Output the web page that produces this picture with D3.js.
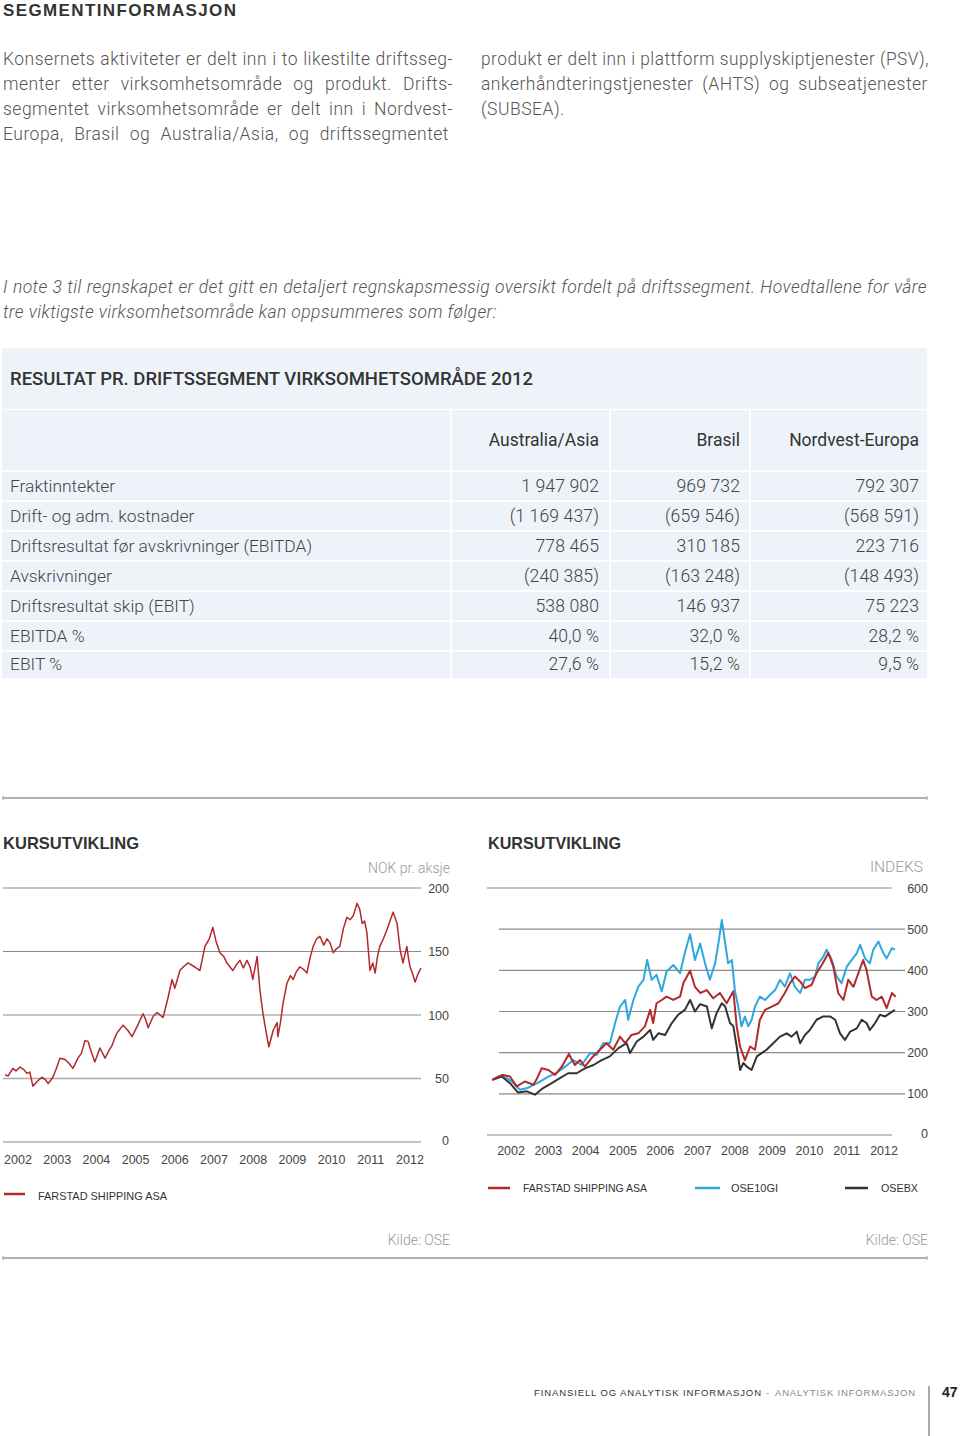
<!DOCTYPE html>
<html><head><meta charset="utf-8">
<script src="https://cdn.jsdelivr.net/npm/d3@7"></script>
<style>
body{margin:0;background:#fff;}
svg{display:block;}
</style></head><body>
<svg id="page" width="960" height="1436"></svg>
<script>
// ---------------- DATA ----------------
const pageHeading = "SEGMENTINFORMASJON";
const introLeft = [
  "Konsernets aktiviteter er delt inn i to likestilte driftsseg-",
  "menter etter virksomhetsområde og produkt. Drifts-",
  "segmentet virksomhetsområde er delt inn i Nordvest-",
  "Europa, Brasil og Australia/Asia, og driftssegmentet"
];
const introRight = [
  "produkt er delt inn i plattform supplyskiptjenester (PSV),",
  "ankerhåndteringstjenester (AHTS) og subseatjenester",
  "(SUBSEA)."
];
const noteLines = [
  "I note 3 til regnskapet er det gitt en detaljert regnskapsmessig oversikt fordelt på driftssegment. Hovedtallene for våre",
  "tre viktigste virksomhetsområde kan oppsummeres som følger:"
];
const tableTitle = "RESULTAT PR. DRIFTSSEGMENT VIRKSOMHETSOMRÅDE 2012";
const segments = ["Australia/Asia", "Brasil", "Nordvest-Europa"];
const rowLabels = ["Fraktinntekter", "Drift- og adm. kostnader", "Driftsresultat før avskrivninger (EBITDA)",
  "Avskrivninger", "Driftsresultat skip (EBIT)", "EBITDA %", "EBIT %"];
const australiaAsia = ["1 947 902", "(1 169 437)", "778 465", "(240 385)", "538 080", "40,0 %", "27,6 %"];
const brasil = ["969 732", "(659 546)", "310 185", "(163 248)", "146 937", "32,0 %", "15,2 %"];
const nordvestEuropa = ["792 307", "(568 591)", "223 716", "(148 493)", "75 223", "28,2 %", "9,5 %"];

const chartTitle = "KURSUTVIKLING";
const years = [2002, 2003, 2004, 2005, 2006, 2007, 2008, 2009, 2010, 2011, 2012];
const priceTicks = [0, 50, 100, 150, 200];
const indexTicks = [0, 100, 200, 300, 400, 500, 600];

// Farstad Shipping share price, NOK per share  [year, value]
const farstadPrice = [
  [2002.17,53],[2002.25,52],[2002.37,58],[2002.45,56],[2002.55,59],[2002.65,57],[2002.73,54],[2002.80,55],[2002.88,44],
  [2003.00,48],[2003.11,51],[2003.20,49],[2003.27,46],[2003.39,51],[2003.48,58],[2003.57,66],[2003.70,65],[2003.80,62],
  [2003.90,58],[2004.03,66],[2004.12,70],[2004.21,80],[2004.29,79],[2004.38,70],[2004.46,63],[2004.59,74],[2004.72,66],
  [2004.82,72],[2004.90,76],[2004.97,82],[2005.03,86],[2005.18,92],[2005.30,88],[2005.41,83],[2005.54,91],[2005.69,101],
  [2005.75,97],[2005.82,90],[2005.95,99],[2006.05,102],[2006.20,98],[2006.33,114],[2006.43,128],[2006.50,121],
  [2006.63,135],[2006.72,138],[2006.84,141],[2007.00,138],[2007.14,135],[2007.27,154],[2007.38,160],[2007.47,169],
  [2007.56,157],[2007.65,149],[2007.75,146],[2007.83,141],[2007.98,135],[2008.08,140],[2008.16,143],[2008.25,137],
  [2008.34,143],[2008.42,138],[2008.49,128],[2008.60,146],[2008.67,120],[2008.75,101],[2008.85,83],[2008.90,75],
  [2009.01,88],[2009.11,94],[2009.13,83],[2009.20,95],[2009.26,109],[2009.36,125],[2009.45,131],[2009.52,128],
  [2009.60,134],[2009.69,138],[2009.78,136],[2009.87,133],[2009.95,145],[2010.03,154],[2010.12,160],[2010.20,162],
  [2010.30,155],[2010.38,160],[2010.46,157],[2010.54,149],[2010.62,152],[2010.71,154],[2010.80,168],[2010.89,177],
  [2010.97,175],[2011.05,178],[2011.15,188],[2011.22,183],[2011.28,172],[2011.34,174],[2011.40,165],[2011.48,135],
  [2011.55,141],[2011.61,133],[2011.67,146],[2011.73,154],[2011.82,160],[2011.91,167],[2012.00,175],[2012.07,181],
  [2012.17,172],[2012.25,151],[2012.32,141],[2012.42,154],[2012.46,145],[2012.50,138],[2012.57,132],[2012.63,126],
  [2012.70,132],[2012.78,137]
];

// Index series (start = ~130)  [year, value]
const farstadIndex = [
  [2002.00,134],[2002.12,140],[2002.29,146],[2002.47,142],[2002.65,118],[2002.87,130],[2003.10,122],[2003.20,138],
  [2003.32,162],[2003.50,158],[2003.68,146],[2003.86,166],[2004.05,197],[2004.21,170],[2004.35,182],[2004.48,166],
  [2004.66,187],[2004.88,207],[2005.06,223],[2005.24,207],[2005.42,239],[2005.56,223],[2005.73,243],[2005.91,247],
  [2006.09,264],[2006.23,304],[2006.31,272],[2006.40,320],[2006.54,328],[2006.67,336],[2006.85,328],[2007.03,336],
  [2007.12,369],[2007.30,399],[2007.43,360],[2007.57,345],[2007.75,352],[2007.92,332],[2008.10,345],[2008.28,320],
  [2008.46,349],[2008.55,264],[2008.64,215],[2008.77,182],[2008.91,215],[2009.04,207],[2009.17,280],[2009.31,304],
  [2009.49,312],[2009.67,320],[2009.84,345],[2009.98,369],[2010.11,385],[2010.25,373],[2010.38,357],[2010.56,365],
  [2010.69,393],[2010.83,413],[2011.01,442],[2011.14,409],[2011.27,345],[2011.41,328],[2011.54,377],[2011.68,360],
  [2011.81,393],[2011.94,425],[2012.03,401],[2012.17,336],[2012.30,328],[2012.44,336],[2012.57,308],[2012.71,345],
  [2012.81,336]
];
const ose10gi = [
  [2002.00,134],[2002.25,146],[2002.52,130],[2002.74,110],[2002.96,115],[2003.23,127],[2003.50,142],[2003.72,151],
  [2003.95,166],[2004.17,182],[2004.39,170],[2004.62,199],[2004.80,195],[2004.97,223],[2005.15,223],[2005.29,272],
  [2005.42,312],[2005.56,328],[2005.64,280],[2005.78,328],[2005.91,360],[2006.05,377],[2006.15,425],[2006.27,377],
  [2006.40,389],[2006.54,349],[2006.67,397],[2006.85,413],[2007.03,393],[2007.16,442],[2007.30,488],[2007.43,425],
  [2007.57,465],[2007.70,417],[2007.83,377],[2007.97,417],[2008.06,466],[2008.15,522],[2008.24,466],[2008.32,417],
  [2008.42,425],[2008.50,352],[2008.59,312],[2008.68,264],[2008.77,288],[2008.86,264],[2008.95,280],[2009.04,312],
  [2009.17,336],[2009.31,328],[2009.44,340],[2009.58,352],[2009.71,377],[2009.84,360],[2009.98,393],[2010.11,360],
  [2010.25,345],[2010.38,377],[2010.51,377],[2010.65,385],[2010.74,417],[2010.87,433],[2010.96,450],[2011.10,425],
  [2011.23,385],[2011.36,369],[2011.50,409],[2011.63,425],[2011.77,442],[2011.86,462],[2011.99,429],[2012.12,417],
  [2012.21,450],[2012.35,470],[2012.48,442],[2012.57,429],[2012.71,454],[2012.79,450]
];
const osebx = [
  [2002.00,134],[2002.25,142],[2002.47,126],[2002.69,103],[2002.92,106],[2003.14,98],[2003.36,114],[2003.59,126],
  [2003.81,138],[2004.03,150],[2004.26,150],[2004.48,162],[2004.71,170],[2004.93,182],[2005.15,191],[2005.38,211],
  [2005.60,223],[2005.69,199],[2005.87,227],[2006.05,239],[2006.23,255],[2006.31,231],[2006.45,247],[2006.63,243],
  [2006.81,272],[2006.98,292],[2007.16,304],[2007.30,328],[2007.43,300],[2007.57,318],[2007.75,312],[2007.88,259],
  [2008.01,296],[2008.15,320],[2008.24,312],[2008.37,272],[2008.46,264],[2008.55,215],[2008.64,158],[2008.73,175],
  [2008.82,166],[2008.95,158],[2009.09,191],[2009.22,199],[2009.35,207],[2009.53,223],[2009.71,239],[2009.89,247],
  [2010.02,239],[2010.16,251],[2010.25,223],[2010.38,243],[2010.51,255],[2010.69,280],[2010.87,288],[2011.05,288],
  [2011.19,280],[2011.32,247],[2011.45,231],[2011.59,251],[2011.77,259],[2011.90,280],[2012.03,272],[2012.12,255],
  [2012.26,272],[2012.39,292],[2012.53,288],[2012.66,296],[2012.79,304]
];
const seriesNames = ["FARSTAD SHIPPING ASA", "OSE10GI", "OSEBX"];
const seriesColors = ["#b3292b", "#2ea7dd", "#333333"];
const unitLeft = "NOK pr. aksje";
const unitRight = "INDEKS";
const sourceText = "Kilde: OSE";
const footerMain = "FINANSIELL OG ANALYTISK INFORMASJON";
const footerSub = "ANALYTISK INFORMASJON";
const pageNumber = "47";

// ---------------- DRAW ----------------
const svg = d3.select("#page");
const BODY = "Roboto, 'Open Sans', 'Liberation Sans', sans-serif";
const HEAD = "'Liberation Sans', Arial, sans-serif";

function fit(sel, target, mode) {
  const w = sel.node().getComputedTextLength();
  if (Math.abs(w - target) > 0.5) sel.attr("textLength", target).attr("lengthAdjust", mode || "spacingAndGlyphs");
  return sel;
}
function justify(sel, target) {
  const w = sel.node().getComputedTextLength();
  const n = (sel.text().match(/ /g) || []).length;
  if (w < target && n) sel.attr("word-spacing", (target - w) / n);
  else if (w > target) sel.attr("textLength", target).attr("lengthAdjust", "spacingAndGlyphs");
  return sel;
}
function calibrate(attrs, text, target) {
  const t = svg.append("text").attr("font-family", attrs.family).attr("font-weight", attrs.weight)
    .attr("font-style", attrs.style || "normal").attr("font-size", attrs.size).text(text);
  const w = t.node().getComputedTextLength();
  t.remove();
  return (target - w) / text.length;
}

// Heading
fit(svg.append("text").attr("x", 3).attr("y", 16).attr("font-family", HEAD).attr("font-weight", "bold")
  .attr("font-size", 17).attr("fill", "#333").text(pageHeading), 233, "spacing");

// Intro paragraphs
const bodyAttrs = { family: BODY, weight: 300, size: 17.5 };
const lsBody = calibrate(bodyAttrs, introLeft[0], 447);
const lineStep = 25;
function bodyLine(x, y, t) {
  return svg.append("text").attr("x", x).attr("y", y).attr("font-family", BODY)
    .attr("font-weight", 300).attr("font-size", 17.5).attr("letter-spacing", lsBody).attr("fill", "#555").text(t);
}
introLeft.forEach((t, i) => justify(bodyLine(3, 65 + i * lineStep, t), i === 3 ? 446 : 450));
introRight.forEach((t, i) => {
  const s = bodyLine(481, 65 + i * lineStep, t);
  if (i < 2) justify(s, i === 0 ? 448 : 447);
});

// Note (italic)
const noteAttrs = { family: BODY, weight: 300, size: 17.5, style: "italic" };
const lsNote = calibrate(noteAttrs, noteLines[0], 918);
noteLines.forEach((t, i) => {
  const s = svg.append("text").attr("x", 3).attr("y", 293 + i * lineStep).attr("font-family", BODY)
    .attr("font-style", "italic").attr("font-weight", 300).attr("font-size", 17.5)
    .attr("letter-spacing", lsNote).attr("fill", "#555").text(t);
  if (i === 0) justify(s, 924);
});

// ---------- Table ----------
const tbl = svg.append("g");
const tLeft = 2, tRight = 927;
tbl.append("rect").attr("x", tLeft).attr("y", 348).attr("width", tRight - tLeft).attr("height", 330).attr("fill", "#eef3fa");
fit(tbl.append("text").attr("x", 10).attr("y", 385).attr("font-family", BODY).attr("font-weight", 500)
  .attr("font-size", 17.5).attr("fill", "#333").text(tableTitle), 523);

const colRight = d3.scaleOrdinal().domain(segments).range([599, 740, 919]);
const colBounds = [451, 610, 750];
const rowY = d3.scaleBand().domain(rowLabels).range([471, 681]);
tbl.append("line").attr("x1", tLeft).attr("x2", tRight).attr("y1", 409.5).attr("y2", 409.5).attr("stroke", "#fff").attr("stroke-width", 1.5);
tbl.selectAll("line.h").data(rowLabels).join("line").attr("class", "h")
  .attr("x1", tLeft).attr("x2", tRight).attr("y1", d => rowY(d)).attr("y2", d => rowY(d))
  .attr("stroke", "#fff").attr("stroke-width", 2);
tbl.selectAll("line.v").data(colBounds).join("line").attr("class", "v")
  .attr("x1", d => d).attr("x2", d => d).attr("y1", 410).attr("y2", 678).attr("stroke", "#fff").attr("stroke-width", 2);
tbl.selectAll("text.col").data(segments).join("text").attr("class", "col")
  .attr("x", d => colRight(d)).attr("y", 446).attr("text-anchor", "end").attr("font-family", BODY)
  .attr("font-weight", 400).attr("font-size", 17.5).attr("fill", "#333").text(d => d);
tbl.selectAll("text.rl").data(rowLabels).join("text").attr("class", "rl")
  .attr("x", 10).attr("y", (d, i) => rowY(d) + rowY.bandwidth() / 2 + 6 - (i === 6 ? 2 : 0)).attr("font-family", BODY)
  .attr("font-weight", 300).attr("font-size", 17.4).attr("fill", "#444").text(d => d);
[australiaAsia, brasil, nordvestEuropa].forEach((vals, ci) => {
  tbl.selectAll("text.c" + ci).data(vals).join("text").attr("class", "c" + ci)
    .attr("x", colRight(segments[ci])).attr("y", (d, i) => rowY(rowLabels[i]) + rowY.bandwidth() / 2 + 6 - (i === 6 ? 2 : 0))
    .attr("text-anchor", "end").attr("font-family", BODY).attr("font-weight", 300).attr("font-size", 17.6)
    .attr("letter-spacing", 0.1).attr("fill", "#444").text(d => d);
});

// ---------- Separators ----------
function sep(y) {
  svg.append("line").attr("x1", 3).attr("x2", 927).attr("y1", y).attr("y2", y).attr("stroke", "#999").attr("stroke-width", 1.5);
  [3, 927].forEach(x => svg.append("line").attr("x1", x).attr("x2", x).attr("y1", y - 2).attr("y2", y + 2).attr("stroke", "#999").attr("stroke-width", 1));
}
sep(798);
sep(1258);

// ---------- Left chart ----------
const L = svg.append("g");
fit(L.append("text").attr("x", 3).attr("y", 849).attr("font-family", HEAD).attr("font-weight", "bold")
  .attr("font-size", 17).attr("fill", "#333").text(chartTitle), 136);
L.append("text").attr("x", 450).attr("y", 873).attr("text-anchor", "end").attr("font-family", BODY)
  .attr("font-weight", 300).attr("font-size", 14).attr("fill", "#999").text(unitLeft);

const xL = d3.scaleLinear().domain([2002, 2013]).range([-1.6, 429.6]);
const yL = d3.scaleLinear().domain([0, 200]).range([1142, 888]);
L.selectAll("line.g").data(priceTicks).join("line").attr("class", "g")
  .attr("x1", 3).attr("x2", 421).attr("y1", d => yL(d)).attr("y2", d => yL(d))
  .attr("stroke", d => d === 50 ? "#aaa" : "#8a8a8a").attr("stroke-width", d => d === 50 ? 1.6 : 1.1);
L.selectAll("text.yt").data(priceTicks).join("text").attr("class", "yt")
  .attr("x", 449).attr("y", d => yL(d) + 4.5 - (d === 0 ? 2 : 0)).attr("text-anchor", "end")
  .attr("font-family", HEAD).attr("font-size", 12.5).attr("fill", "#444").text(d => d);
L.selectAll("text.xt").data(years).join("text").attr("class", "xt")
  .attr("x", d => xL(d + 0.5)).attr("y", 1164).attr("text-anchor", "middle")
  .attr("font-family", HEAD).attr("font-size", 12.5).attr("fill", "#444").text(d => d);
L.append("path").datum(farstadPrice)
  .attr("d", d3.line().x(d => xL(d[0])).y(d => yL(d[1])))
  .attr("fill", "none").attr("stroke", seriesColors[0]).attr("stroke-width", 1.5).attr("stroke-linejoin", "round");
L.append("line").attr("x1", 4).attr("x2", 25).attr("y1", 1194).attr("y2", 1194).attr("stroke", seriesColors[0]).attr("stroke-width", 2.5);
fit(L.append("text").attr("x", 38).attr("y", 1200).attr("font-family", HEAD).attr("font-size", 11.5)
  .attr("fill", "#333").text(seriesNames[0]), 129);
L.append("text").attr("x", 450).attr("y", 1245).attr("text-anchor", "end").attr("font-family", BODY)
  .attr("font-weight", 300).attr("font-size", 14).attr("fill", "#999").text(sourceText);

// ---------- Right chart ----------
const R = svg.append("g");
fit(R.append("text").attr("x", 488).attr("y", 849).attr("font-family", HEAD).attr("font-weight", "bold")
  .attr("font-size", 17).attr("fill", "#333").text(chartTitle), 133);
R.append("text").attr("x", 923).attr("y", 872).attr("text-anchor", "end").attr("font-family", BODY)
  .attr("font-weight", 300).attr("font-size", 15.5).attr("fill", "#999").text(unitRight);

const xR = d3.scaleLinear().domain([2002, 2013]).range([492.4, 902.7]);
const yR = d3.scaleLinear().domain([0, 600]).range([1135, 888]);
R.selectAll("line.g").data(indexTicks).join("line").attr("class", "g")
  .attr("x1", d => (d === 0 || d === 600) ? 487 : 499).attr("x2", d => (d === 0 || d === 600) ? 892 : 905)
  .attr("y1", d => yR(d)).attr("y2", d => yR(d))
  .attr("stroke", d => d === 100 ? "#aaa" : "#8a8a8a").attr("stroke-width", d => d === 100 ? 1.6 : 1.1);
R.selectAll("text.yt").data(indexTicks).join("text").attr("class", "yt")
  .attr("x", 928).attr("y", d => yR(d) + 4.5 - (d === 0 ? 2 : 0)).attr("text-anchor", "end")
  .attr("font-family", HEAD).attr("font-size", 12.5).attr("fill", "#444").text(d => d);
R.selectAll("text.xt").data(years).join("text").attr("class", "xt")
  .attr("x", d => xR(d + 0.5)).attr("y", 1155).attr("text-anchor", "middle")
  .attr("font-family", HEAD).attr("font-size", 12.5).attr("fill", "#444").text(d => d);
const lineR = d3.line().x(d => xR(d[0])).y(d => yR(d[1]));
[[ose10gi, 1], [osebx, 2], [farstadIndex, 0]].forEach(([data, ci]) => {
  R.append("path").datum(data).attr("d", lineR).attr("fill", "none")
    .attr("stroke", seriesColors[ci]).attr("stroke-width", 2).attr("stroke-linejoin", "round");
});
const legX = [[488, 510, 523, 124], [695, 720, 731, 47], [845, 868, 881, 37]];
seriesNames.forEach((n, i) => {
  R.append("line").attr("x1", legX[i][0]).attr("x2", legX[i][1]).attr("y1", 1188).attr("y2", 1188)
    .attr("stroke", seriesColors[i]).attr("stroke-width", 2.5);
  fit(R.append("text").attr("x", legX[i][2]).attr("y", 1192).attr("font-family", HEAD).attr("font-size", 11.5)
    .attr("fill", "#333").text(n), legX[i][3]);
});
R.append("text").attr("x", 928).attr("y", 1245).attr("text-anchor", "end").attr("font-family", BODY)
  .attr("font-weight", 300).attr("font-size", 14).attr("fill", "#999").text(sourceText);

// ---------- Footer ----------
fit(svg.append("text").attr("x", 534).attr("y", 1396).attr("font-family", HEAD).attr("font-size", 9.5)
  .attr("fill", "#333").text(footerMain), 227, "spacing");
svg.append("text").attr("x", 766).attr("y", 1396).attr("font-family", HEAD).attr("font-size", 9.5)
  .attr("fill", "#888").text("-");
fit(svg.append("text").attr("x", 775).attr("y", 1396).attr("font-family", HEAD).attr("font-size", 9.5)
  .attr("fill", "#888").text(footerSub), 140, "spacing");
svg.append("line").attr("x1", 929).attr("x2", 929).attr("y1", 1386).attr("y2", 1436).attr("stroke", "#555").attr("stroke-width", 1);
svg.append("text").attr("x", 942).attr("y", 1397).attr("font-family", HEAD).attr("font-weight", "bold")
  .attr("font-size", 14).attr("fill", "#222").text(pageNumber);
</script>
</body></html>
